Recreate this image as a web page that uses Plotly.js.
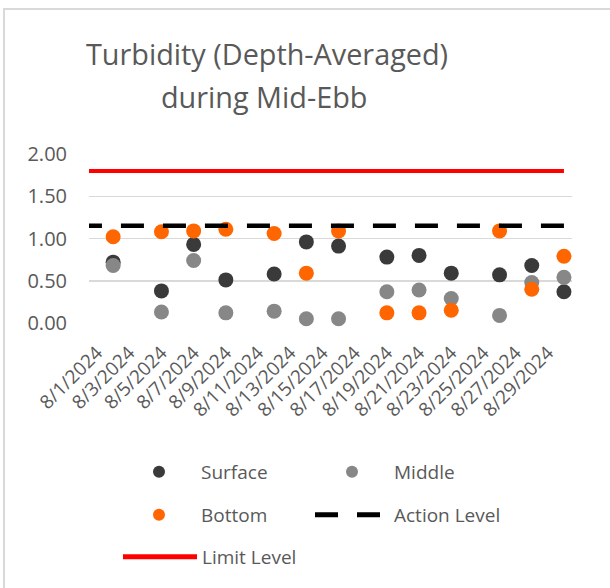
<!DOCTYPE html>
<html>
<head>
<meta charset="utf-8">
<script src="https://cdn.plot.ly/plotly-3.0.1.min.js"></script>
<style>
html, body { margin: 0; padding: 0; width: 610px; height: 588px; overflow: hidden; background: #ffffff; }
#frame { position: absolute; left: 3px; top: 8px; width: 800px; height: 800px; border: 2px solid #d9d9d9; box-sizing: border-box; }
#chart { position: absolute; left: 0; top: 0; width: 610px; height: 588px; }
</style>
</head>
<body>
<div id="frame"></div>
<div id="chart"></div>
<script>
// Sampling dates
const dates = ['2024-08-02','2024-08-05','2024-08-07','2024-08-09','2024-08-12','2024-08-14','2024-08-16','2024-08-19','2024-08-21','2024-08-23','2024-08-26','2024-08-28','2024-08-30'];
// Depth-averaged turbidity
const surface = [0.72, 0.38, 0.93, 0.51, 0.58, 0.96, 0.91, 0.78, 0.80, 0.59, 0.57, 0.68, 0.37];
const middle  = [0.68, 0.13, 0.74, 0.12, 0.14, 0.05, 0.05, 0.37, 0.39, 0.29, 0.09, 0.48, 0.54];
const bottom  = [1.02, 1.08, 1.09, 1.11, 1.06, 0.59, 1.09, 0.12, 0.12, 0.15, 1.09, 0.40, 0.79];
// Reference levels (drawn across the chart, clipped at the left edge)
const levelDates = ['2024-07-30 21:00', '2024-08-30'];
const actionLevel = [1.15, 1.15];
const limitLevel = [1.80, 1.80];
// Axis ticks
const tickDates = ['2024-08-01','2024-08-03','2024-08-05','2024-08-07','2024-08-09','2024-08-11','2024-08-13','2024-08-15','2024-08-17','2024-08-19','2024-08-21','2024-08-23','2024-08-25','2024-08-27','2024-08-29'];
const tickLabels = ['8/1/2024','8/3/2024','8/5/2024','8/7/2024','8/9/2024','8/11/2024','8/13/2024','8/15/2024','8/17/2024','8/19/2024','8/21/2024','8/23/2024','8/25/2024','8/27/2024','8/29/2024'];
const yTicks = [0, 0.5, 1.0, 1.5, 2.0];
const titleLines = ['Turbidity (Depth-Averaged)', 'during Mid-Ebb'];

const FONT = 'Open Sans, Noto Sans, sans-serif';
const TXT = '#595959';

const traces = [
  {x: dates, y: surface, name: 'Surface', type: 'scatter', mode: 'markers', cliponaxis: false,
   marker: {color: '#3a3a3a', size: 15}, legend: 'legend'},
  {x: dates, y: middle, name: 'Middle', type: 'scatter', mode: 'markers', cliponaxis: false,
   marker: {color: '#878787', size: 15}, legend: 'legend2'},
  {x: dates, y: bottom, name: 'Bottom', type: 'scatter', mode: 'markers', cliponaxis: false,
   marker: {color: '#ff6600', size: 15}, legend: 'legend3'},
  {x: levelDates, y: actionLevel, name: 'Action Level', type: 'scatter', mode: 'lines',
   line: {color: '#000000', width: 4.5, dash: '23px,19px'}, legend: 'legend4'},
  {x: levelDates, y: limitLevel, name: 'Limit Level', type: 'scatter', mode: 'lines',
   line: {color: '#ff0000', width: 4}, legend: 'legend5'}
];

function leg(xpx, ypx) {
  return {x: xpx / 610, y: 1 - ypx / 588, xref: 'container', yref: 'container',
          xanchor: 'left', yanchor: 'middle', bgcolor: 'rgba(0,0,0,0)',
          itemwidth: 74, itemsizing: 'constant',
          font: {family: FONT, size: 19, color: TXT}};
}

const PL = 89, PR = 572, PT = 154, PB = 323.3;
const layout = {
  width: 610, height: 588,
  margin: {l: PL, r: 610 - PR, t: PT, b: 588 - PB, autoexpand: false},
  paper_bgcolor: 'rgba(0,0,0,0)', plot_bgcolor: 'rgba(0,0,0,0)',
  font: {family: FONT, color: TXT},
  showlegend: true,
  xaxis: {
    type: 'date', range: ['2024-07-31 12:00', '2024-08-30 12:00'],
    tickmode: 'array', tickvals: tickDates, ticktext: tickLabels, tickangle: -45,
    tickfont: {family: FONT, size: 19, color: TXT},
    showgrid: false, zeroline: false, showline: false, ticks: '',
    ticklabelstandoff: 14, automargin: false
  },
  yaxis: {
    range: [0, 2], tickmode: 'array', tickvals: yTicks, tickformat: '.2f',
    tickfont: {family: FONT, size: 20, color: TXT},
    showgrid: true, gridcolor: '#d9d9d9', gridwidth: 1.5,
    zeroline: false, showline: false, ticks: '', ticklabelstandoff: 21, automargin: false
  },
  legend: leg(117, 472),
  legend2: leg(310, 472),
  legend3: leg(117, 515),
  legend4: leg(310, 515),
  legend5: leg(118, 557),
  annotations: [
    {text: titleLines[0], xref: 'paper', yref: 'paper', x: (267 - PL) / (PR - PL), y: (PB - 53) / (PB - PT),
     xanchor: 'center', yanchor: 'middle', showarrow: false, font: {family: FONT, size: 28.8, color: TXT}},
    {text: titleLines[1], xref: 'paper', yref: 'paper', x: (264 - PL) / (PR - PL), y: (PB - 96) / (PB - PT),
     xanchor: 'center', yanchor: 'middle', showarrow: false, font: {family: FONT, size: 28.8, color: TXT}}
  ]
};

Plotly.newPlot('chart', traces, layout, {displayModeBar: false, staticPlot: true});
</script>
</body>
</html>
